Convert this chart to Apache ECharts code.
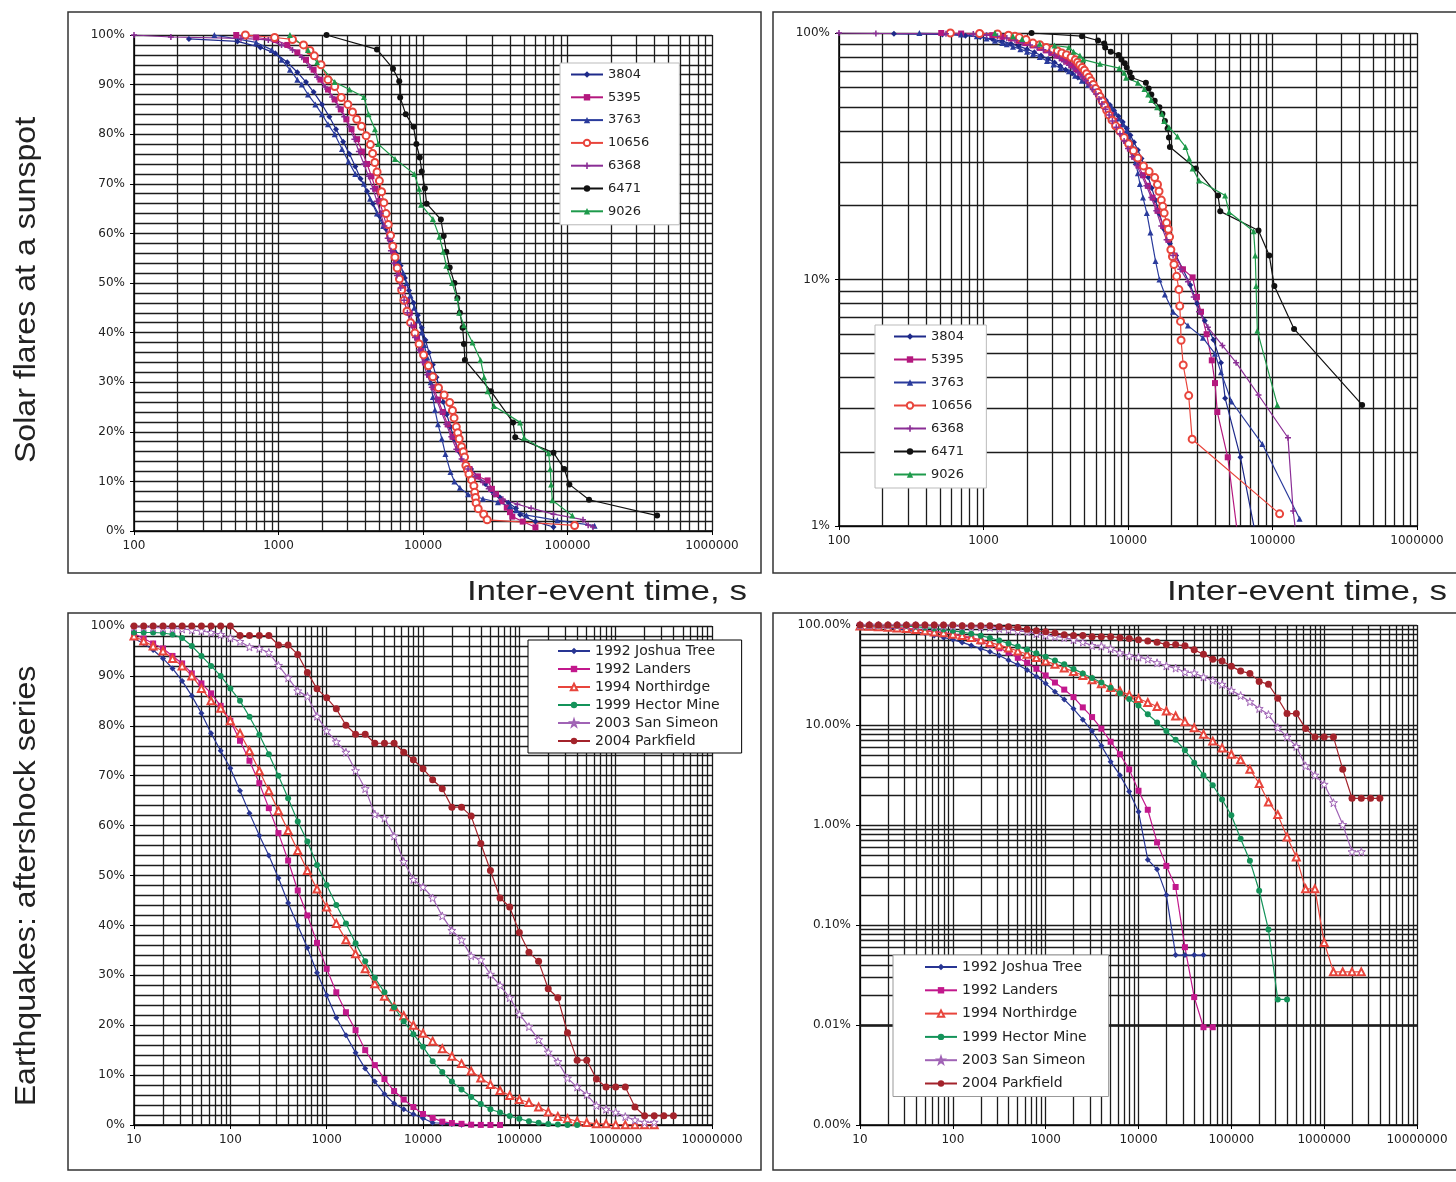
<!DOCTYPE html>
<html><head><meta charset="utf-8">
<script src="https://cdn.jsdelivr.net/npm/echarts@6/dist/echarts.min.js"></script>
<style>html,body{margin:0;padding:0;background:#fff}#c{width:1456px;height:1182px}</style>
</head><body><div id="c"></div>
<script>
// ---------- DATA ----------
const solarNames = ['3804','5395','3763','10656','6368','6471','9026'];
const quakeNames = ['1992 Joshua Tree','1992 Landers','1994 Northirdge','1999 Hector Mine','2003 San Simeon','2004 Parkfield'];

// solar flares: [inter-event time s, % of intervals longer]
const s3804 = [[240,99.2],[520,98.7],[750,97.5],[950,96.3],[1150,94.5],[1350,92.5],[1550,90.5],[1750,88.5],[2000,86],[2250,83.5],[2500,81],[2800,78.5],[3100,76],[3400,73.5],[3700,71],[4100,68.5],[4500,66],[5000,63.5],[5500,61],[6000,58.5],[6500,56],[7000,53.5],[7500,51],[8000,48.5],[8600,46],[9200,43.5],[9800,41],[10400,38.5],[11000,36],[11700,33.5],[12400,31],[13100,28.5],[13800,26],[14600,23.5],[15500,21],[16500,18.5],[17800,16],[19500,14],[21500,12.5],[24000,11],[27000,9.5],[30000,8],[34000,6.8],[39000,5.7],[44000,4.6],[47000,3.3],[60000,1.9],[80000,0.8]];
const s5395 = [[510,100],[700,99.5],[950,99],[1150,98],[1350,96.5],[1550,95],[1750,93],[1950,91],[2200,89],[2450,87],[2700,85],[2950,83],[3200,81],[3500,79],[3800,76.5],[4100,74],[4400,71.5],[4700,69],[5000,66.5],[5300,64],[5600,61.5],[5900,59],[6200,56.5],[6500,54],[6900,51.5],[7300,49],[7700,46.5],[8100,44],[8600,41.5],[9100,39],[9700,36.5],[10300,34],[11000,31.5],[11800,29],[12700,26.5],[13700,24],[14800,21.5],[16000,19],[17500,16.5],[19000,14.5],[21000,12.5],[24000,11],[28000,10.2],[30000,8.5],[32000,7.4],[35000,6],[38000,4.7],[40000,3.8],[41500,2.9],[49000,1.9],[60000,0.75]];
const s3763 = [[360,100],[700,98.5],[900,97],[1050,95],[1200,93],[1350,91],[1450,90],[1600,88],[1800,86],[2000,84],[2200,82],[2450,80],[2750,77],[3050,74.5],[3400,72],[3900,70],[4300,67],[4800,64],[5300,61.5],[5800,59.5],[6300,57],[6800,54.5],[7300,52],[7700,50],[8200,47.5],[8700,45],[9300,42.5],[9800,40],[10200,37.5],[10700,35],[11000,32.5],[11300,30],[11700,27],[12100,24.4],[12700,21.5],[13500,18.6],[14300,15.5],[15500,11.9],[16500,10],[18000,8.7],[20500,7.4],[26000,6.5],[33000,5.8],[40000,5.0],[44000,4.2],[52000,3.2],[85000,2.15],[154000,1.07]];
const s10656 = [[590,100],[940,99.5],[1250,99.1],[1490,98],[1650,96.9],[1770,95.8],[1970,94],[2200,91],[2450,89.6],[2720,87.4],[3020,86],[3250,84.5],[3480,83],[3750,81.6],[4040,79.7],[4320,77.9],[4480,76.1],[4640,74.3],[4810,72.4],[4990,70.6],[5170,68.4],[5360,66.2],[5550,64],[5750,61.8],[5960,59.6],[6180,57.4],[6400,55.2],[6630,53],[6870,50.8],[7120,48.6],[7380,46.5],[7750,44.3],[8200,42],[8790,39.9],[9400,37.7],[10100,35.5],[10900,33.3],[11700,31.1],[12800,28.9],[14000,27.4],[15300,25.9],[16000,24.3],[16400,22.8],[17000,21],[17400,19.8],[17800,18.6],[18500,17],[19000,16],[19400,14.9],[19800,13.2],[20300,12.4],[20800,11.5],[21700,10.3],[22500,9.1],[22800,7.8],[23100,6.76],[23300,5.67],[24100,4.5],[26300,3.38],[27800,2.25],[112000,1.12]];
const s6368 = [[100,100],[180,99.6],[550,99.3],[850,99],[1050,98],[1250,97],[1450,95.5],[1650,93.5],[1850,91.5],[2100,89.5],[2350,87.5],[2600,85.5],[2850,83.5],[3100,81.5],[3350,79],[3600,76.5],[3900,74],[4200,71.5],[4500,69],[4800,66.5],[5100,64],[5400,61.5],[5700,59],[6000,56.5],[6300,54],[6600,51.5],[7000,49],[7400,46.5],[7800,44],[8300,41.5],[8800,39],[9400,36.5],[10000,34],[10700,31.5],[11500,29],[12400,26.5],[13400,24],[14500,21.5],[15700,19],[17000,16.5],[18500,14.5],[20500,12.5],[23000,11],[26000,9.8],[28500,8.5],[31000,7.4],[35700,6.4],[45000,5.4],[56000,4.6],[80000,3.4],[128000,2.28],[139000,1.15],[150000,0.8]];
const s6471 = [[2150,100],[4800,97.1],[6200,93.2],[6850,90.7],[6950,87.4],[7600,84],[8600,81.5],[9000,78],[9500,75.3],[9800,72.5],[10300,69.1],[10600,66],[13300,62.8],[13900,59.5],[14500,56.3],[15300,53.1],[16500,50],[17300,47],[18000,44],[18800,41],[19200,37.7],[19500,34.5],[29500,28.2],[42000,21.9],[43500,18.9],[80000,15.8],[95000,12.5],[103000,9.4],[141000,6.3],[417000,3.1]];
const s9026 = [[1200,100],[1600,97],[1850,94.5],[2450,90.5],[3100,89],[3900,87.5],[4200,84],[4650,81],[4900,78],[6400,75],[8700,72],[9400,69],[9700,65.8],[11700,62.9],[13000,59.3],[13800,56.3],[14500,53.5],[15900,50],[17200,47],[17800,44],[19200,41.5],[22000,38],[25000,34.5],[26500,31],[28000,28.2],[31000,25.2],[47000,21.9],[50000,18.8],[74000,15.7],[76000,12.5],[77000,9.4],[78500,6.2],[108000,3.1]];

// aftershocks: time bins (s) and % of intervals longer than each bin
const timeBins = [10,12.6,15.8,20,25.1,31.6,39.8,50.1,63.1,79.4,100,126,158,200,251,316,398,501,631,794,1000,1259,1585,1995,2512,3162,3981,5012,6310,7943,10000,12589,15849,19953,25119,31623,39811,50119,63096,79433,100000,125893,158489,199526,251189,316228,398107,501187,630957,794328,1000000,1258925,1584893,1995262,2511886,3162278,3981072];
const joshuaTree = [97.5,96.5,95.2,93.5,91.5,89,86,82.5,78.5,75,71.5,67,62.5,58,54,49.5,44.5,40,35.5,30.5,26,21.5,18,14.5,11.3,8.7,6.2,4.3,3.15,2.16,1.36,0.45,0.36,0.2,0.05,0.05,0.05,0.05];
const landers = [98.5,97.5,96.5,95.5,94,92.5,90.5,88.5,86.5,84,81,77,73,68.5,63.5,58.5,53,47,42,36.5,31.3,26.6,22.6,19,15,12,9.2,6.8,5.1,3.6,2.2,1.42,0.67,0.39,0.24,0.06,0.019,0.0095,0.0095];
const northridge = [98,97,96,95,93.5,92,90,87.5,85,83.5,81,78.5,75,71,67,63,59,55,51,47.3,43.7,40.4,37.1,34.3,31.3,28.3,25.8,23.7,21.9,20,18.4,16.8,15.3,13.8,12.3,10.8,9.4,8.1,6.9,5.9,5.1,4.5,3.6,2.6,1.7,1.27,0.76,0.48,0.23,0.23,0.067,0.034,0.034,0.034,0.034];
const hectorMine = [98.7,98.7,98.7,98.6,98.3,97.6,96,94,92,90,87.5,85,81.8,78.2,74.3,70,65.5,60.8,56.8,52.1,48.1,44.1,40.4,36.4,32.8,29.5,26.6,23.6,20.8,18.2,15.7,12.8,10.6,8.7,7.1,5.6,4.2,3.15,2.5,1.8,1.25,0.73,0.44,0.22,0.09,0.018,0.018];
const sanSimeon = [99.8,99.8,99.7,99.6,99.5,99.4,99.2,99,98.7,98.3,97.6,96.9,95.8,95.5,94.7,92.1,89.6,87,85.9,81.9,79,76.8,74.7,71,67.4,62.3,61.5,57.9,52.8,49.2,47.7,45.5,41.9,39,37.1,33.9,33.1,30.2,28,25.5,22.2,19.7,17.1,14.6,12.7,9.4,7.6,6.1,3.9,3.15,2.55,1.67,1.01,0.54,0.54];
const parkfield = [100,100,100,100,100,100,100,100,100,100,100,98.1,98.1,98.1,98.1,96.2,96.2,94.3,90.7,87.4,85.6,83.4,80.1,78.3,78.3,76.5,76.5,76.5,74.7,73.2,71.4,69.2,67.4,63.7,63.7,61.9,56.4,51,45.5,43.7,38.6,34.6,32.8,27.3,25.5,18.5,13,13,9.2,7.6,7.6,7.6,3.6,1.85,1.85,1.85,1.85];

// ---------- STYLE ----------
const FONT = '"DejaVu Sans", "Liberation Sans", Arial, sans-serif';
const GRIDC = '#1c1c1c';
const starPath = 'path://M5,0L6.2,3.6L10,3.6L7,5.9L8.1,9.5L5,7.3L1.9,9.5L3,5.9L0,3.6L3.8,3.6Z';
const plusPath = 'path://M3,0H5V3H8V5H5V8H3V5H0V3H3Z';
const solarData = [s3804, s5395, s3763, s10656, s6368, s6471, s9026];
const solarStyle = [
  {color:'#1E2A8A', symbol:'diamond', size:6},
  {color:'#B4187E', symbol:'rect', size:6},
  {color:'#2A3B9C', symbol:'triangle', size:6},
  {color:'#E8453C', symbol:'emptyCircle', size:7, bw:1.4},
  {color:'#8A2D95', symbol:plusPath, size:6},
  {color:'#111111', symbol:'circle', size:6},
  {color:'#1E9A4B', symbol:'triangle', size:6}
];
const quakeData = [joshuaTree, landers, northridge, hectorMine, sanSimeon, parkfield];
const quakeStyle = [
  {color:'#283593', symbol:'diamond', size:6},
  {color:'#C2188C', symbol:'rect', size:6},
  {color:'#E8453C', symbol:'emptyTriangle', size:7, bw:1.2},
  {color:'#14935A', symbol:'circle', size:6},
  {color:'#A063B5', symbol:starPath, size:8, hollow:true},
  {color:'#A3232B', symbol:'circle', size:7}
];

function minorLog(fromExp, toExp) {
  const out = [];
  for (let k = fromExp; k < toExp; k++) for (let d = 2; d <= 9; d++) out.push(d * Math.pow(10, k));
  return out;
}
function gridMarkLine(xs, ys) {
  const data = xs.map(v => ({xAxis: v})).concat(ys.map(v => ({yAxis: v})));
  return {silent:true, symbol:['none','none'], label:{show:false}, z:1, animation:false,
          emphasis:{disabled:true}, lineStyle:{color:GRIDC, width:1.3, type:'solid'}, data};
}
function mkSeries(name, data, st, idx, markLine) {
  const s = {
    type:'line', name, data, xAxisIndex:idx, yAxisIndex:idx,
    symbol:st.symbol, symbolSize:st.size, showSymbol:true, showAllSymbol:true,
    color:st.color, lineStyle:{color:st.color, width:1.2},
    itemStyle: st.hollow ? {color:'#fff', borderColor:st.color, borderWidth:1} :
               {color:st.color, borderWidth: st.bw || 0},
    animation:false, silent:true, clip:true, z:3
  };
  if (markLine) s.markLine = markLine;
  return s;
}

const series = [];
solarNames.forEach((n, i) => {
  series.push(mkSeries(n, solarData[i], solarStyle[i], 0, i === 0 ? gridMarkLine(minorLog(2, 6), []) : null));
});
solarNames.forEach((n, i) => {
  series.push(mkSeries(n, solarData[i], solarStyle[i], 1, i === 0 ? gridMarkLine(minorLog(2, 6), minorLog(0, 2)) : null));
});
quakeNames.forEach((n, i) => {
  const d = quakeData[i].map((v, k) => [timeBins[k], v]);
  series.push(mkSeries(n, d, quakeStyle[i], 2, i === 0 ? gridMarkLine(minorLog(1, 7), []) : null));
});
quakeNames.forEach((n, i) => {
  const d = quakeData[i].map((v, k) => [timeBins[k], v]);
  series.push(mkSeries(n, d, quakeStyle[i], 3, i === 0 ? gridMarkLine(minorLog(1, 7), minorLog(-3, 2)) : null));
});

const axisLbl = {fontFamily:FONT, fontSize:12, color:'#222'};
const splitL = {show:true, lineStyle:{color:GRIDC, width:1.3}};
function xAx(idx, min, max) {
  return {type:'log', logBase:10, gridIndex:idx, min, max,
    axisLine:{show:true, lineStyle:{color:'#000', width:1.5}},
    axisTick:{show:true, length:4, lineStyle:{color:'#000'}},
    splitLine:splitL,
    axisLabel:Object.assign({margin:9, interval:0, formatter:v => String(Math.round(v))}, axisLbl)};
}
function yLin(idx) {
  return {type:'value', gridIndex:idx, min:0, max:100, interval:10,
    axisLine:{show:true, lineStyle:{color:'#000', width:1.5}},
    axisTick:{show:true, length:4, lineStyle:{color:'#000'}},
    splitLine:splitL,
    minorTick:{show:false, splitNumber:5},
    minorSplitLine:{show:true, lineStyle:{color:GRIDC, width:1.3}},
    axisLabel:Object.assign({margin:9, formatter:v => v + '%'}, axisLbl)};
}
function yLog(idx, min, max, fmt) {
  return {type:'log', logBase:10, gridIndex:idx, min, max,
    axisLine:{show:true, lineStyle:{color:'#000', width:1.5}},
    axisTick:{show:true, length:4, lineStyle:{color:'#000'}},
    splitLine:splitL,
    axisLabel:Object.assign({margin:9, interval:0, formatter:fmt}, axisLbl)};
}
function legendCfg(names, left, top, padding, gap, fs, border) {
  return {orient:'vertical', left, top, data:names, itemWidth:32, itemHeight:8, itemGap:gap,
    padding, backgroundColor:'#fff', borderColor:border, borderWidth:1, selectedMode:false,
    textStyle:{fontFamily:FONT, fontSize:fs, color:'#222'}};
}

const titleFont = '"Liberation Sans", Arial, sans-serif';
const option = {
  backgroundColor:'#fff',
  animation:false,
  grid:[
    {left:134, top:35, width:578, height:496},
    {left:839, top:33, width:578, height:493},
    {left:134, top:626, width:578, height:499},
    {left:860, top:625, width:557, height:500}
  ],
  xAxis:[xAx(0,100,1000000), xAx(1,100,1000000), xAx(2,10,10000000), xAx(3,10,10000000)],
  yAxis:[
    yLin(0),
    yLog(1, 1, 100, v => Math.round(v) + '%'),
    yLin(2),
    yLog(3, 0.001, 100, v => Number(v).toFixed(2) + '%')
  ],
  legend:[
    legendCfg(solarNames, 560, 63, [5,30,7,10], 9.8, 13, '#bbb'),
    legendCfg(solarNames, 875, 325, [5,14,7,18], 10, 13, '#bbb'),
    legendCfg(quakeNames, 528, 640, [4,22,5,29], 4, 14, '#000'),
    legendCfg(quakeNames, 893, 955, [5,22,6,31], 9.3, 14, '#999')
  ],
  series,
  graphic:[
    {type:'rect', silent:true, shape:{x:68,y:12,width:693,height:561}, style:{fill:'none', stroke:'#333', lineWidth:1.5}},
    {type:'rect', silent:true, shape:{x:773,y:12,width:700,height:561}, style:{fill:'none', stroke:'#333', lineWidth:1.5}},
    {type:'rect', silent:true, shape:{x:68,y:613,width:693,height:557}, style:{fill:'none', stroke:'#333', lineWidth:1.5}},
    {type:'rect', silent:true, shape:{x:773,y:613,width:700,height:557}, style:{fill:'none', stroke:'#333', lineWidth:1.5}},
    {type:'text', silent:true, x:747, y:592, scaleX:1.25,
      style:{text:'Inter-event time, s', font:'28px ' + titleFont, fill:'#222', align:'right', verticalAlign:'middle', textAlign:'right', textVerticalAlign:'middle'}},
    {type:'text', silent:true, x:1447, y:592, scaleX:1.25,
      style:{text:'Inter-event time, s', font:'28px ' + titleFont, fill:'#222', align:'right', verticalAlign:'middle', textAlign:'right', textVerticalAlign:'middle'}},
    {type:'text', silent:true, x:27, y:290, rotation:Math.PI/2, scaleX:1.07,
      style:{text:'Solar flares at a sunspot', font:'30px ' + titleFont, fill:'#222', align:'center', verticalAlign:'middle', textAlign:'center', textVerticalAlign:'middle'}},
    {type:'text', silent:true, x:27, y:886, rotation:Math.PI/2, scaleX:1.07,
      style:{text:'Earthquakes: aftershock series', font:'30px ' + titleFont, fill:'#222', align:'center', verticalAlign:'middle', textAlign:'center', textVerticalAlign:'middle'}}
  ]
};
const chart = echarts.init(document.getElementById('c'), null, {renderer:'canvas'});
chart.setOption(option);
</script></body></html>
